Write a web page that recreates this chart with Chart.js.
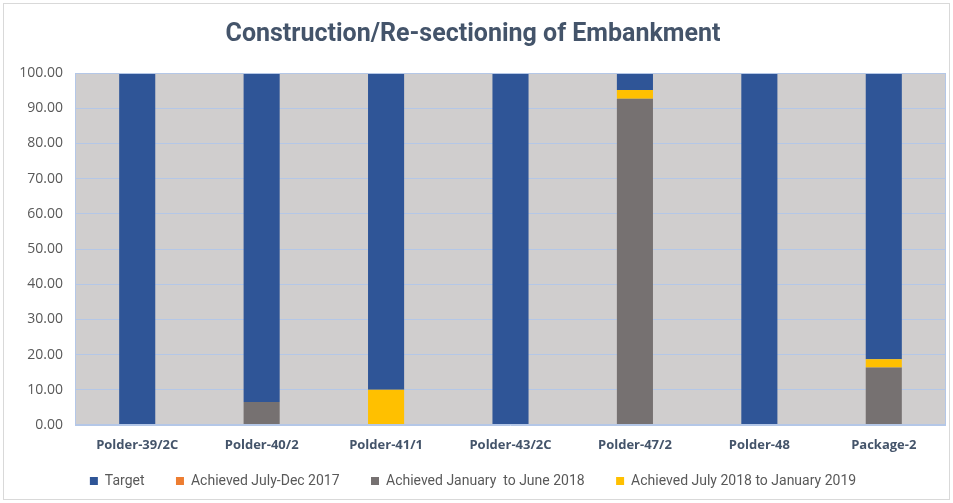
<!DOCTYPE html>
<html>
<head>
<meta charset="utf-8">
<script src="https://cdn.jsdelivr.net/npm/chart.js@4.4.1/dist/chart.umd.min.js"></script>
<style>
    body { margin: 0; background: #ffffff; }
    #wrap { width: 953px; height: 503px; }
</style>
</head>
<body>
<div id="wrap"><canvas id="myChart" width="953" height="503"></canvas></div>
<script>
// chart data
const categories = ['Polder-39/2C', 'Polder-40/2', 'Polder-41/1', 'Polder-43/2C', 'Polder-47/2', 'Polder-48', 'Package-2'];
const target = [100, 100, 100, 100, 100, 100, 100];
const achievedJulDec2017 = [0, 0, 0, 0, 0, 0, 0];
const achievedJanJun2018 = [0, 6.5, 0, 0, 92.7, 0, 16.3];
const achievedJul2018Jan2019 = [0, 0, 10, 0, 2.5, 0, 2.4];
const yTicks = [0, 10, 20, 30, 40, 50, 60, 70, 80, 90, 100];

const legendOrder = ['Target', 'Achieved July-Dec 2017', 'Achieved January  to June 2018', 'Achieved July 2018 to January 2019'];

// grey plot area + outer frame
const backdrop = {
    id: 'backdrop',
    beforeDraw(chart) {
        const { ctx, chartArea: a } = chart;
        ctx.save();
        ctx.strokeStyle = '#D9D9D9';
        ctx.lineWidth = 1;
        ctx.strokeRect(3.5, 3.5, chart.width - 7, chart.height - 7);
        ctx.fillStyle = '#D0CECE';
        ctx.fillRect(a.left, a.top, a.right - a.left, a.bottom - a.top);
        ctx.restore();
    },
    afterDatasetsDraw(chart) {
        const { ctx, chartArea: a } = chart;
        ctx.save();
        ctx.strokeStyle = '#B4C7E7';
        ctx.lineWidth = 1;
        ctx.strokeRect(a.left + 0.5, a.top + 0.5, a.right - a.left - 1, a.bottom - a.top - 1);
        ctx.restore();
    }
};

const ctx = document.getElementById('myChart').getContext('2d');
new Chart(ctx, {
    type: 'bar',
    data: {
        labels: categories,
        datasets: [
            {
                label: legendOrder[1],
                data: achievedJulDec2017,
                backgroundColor: '#ED7D31'
            },
            {
                label: legendOrder[2],
                data: achievedJanJun2018,
                backgroundColor: '#767171'
            },
            {
                label: legendOrder[3],
                data: achievedJul2018Jan2019,
                backgroundColor: '#FFC000'
            },
            {
                label: legendOrder[0],
                data: target,
                backgroundColor: '#2F5597'
            }
        ]
    },
    options: {
        responsive: false,
        animation: false,
        layout: { padding: { left: 0, right: 7, top: 0, bottom: 5 } },
        datasets: {
            bar: { barPercentage: 0.29, categoryPercentage: 1.0 }
        },
        plugins: {
            title: {
                display: true,
                text: 'Construction/Re-sectioning of Embankment',
                color: '#44546A',
                font: { family: "Roboto, 'Open Sans', sans-serif", size: 25, weight: 'bold' },
                padding: { top: 20, bottom: 23 }
            },
            legend: {
                position: 'bottom',
                labels: {
                    color: '#595959',
                    font: { family: "Roboto, sans-serif", size: 14 },
                    boxWidth: 8,
                    boxHeight: 8,
                    padding: 10,
                    // wider gaps between entries, like the original legend
                    generateLabels: (chart) => {
                        const items = Chart.defaults.plugins.legend.labels.generateLabels(chart);
                        items.sort((a, b) => legendOrder.indexOf(a.text) - legendOrder.indexOf(b.text));
                        return items.map((it, i) => {
                            if (i < items.length - 1) it.text = it.text + '\u2003\u2002';
                            return it;
                        });
                    }
                }
            },
            tooltip: { enabled: false }
        },
        scales: {
            x: {
                stacked: true,
                grid: { display: false },
                border: { display: false },
                ticks: {
                    color: '#44546A',
                    font: { family: "'Open Sans', sans-serif", size: 13, weight: 'bold' },
                    maxRotation: 0,
                    padding: 4
                },
                afterFit: (s) => { s.height = 39; }
            },
            y: {
                stacked: true,
                min: 0,
                max: 100,
                afterBuildTicks: (s) => { s.ticks = yTicks.map(v => ({ value: v })); },
                grid: { color: '#B4C7E7', drawTicks: false },
                border: { display: false },
                ticks: {
                    color: '#595959',
                    font: { family: "'Open Sans', sans-serif", size: 14 },
                    padding: 12,
                    callback: (v) => Number(v).toFixed(2)
                },
                afterFit: (s) => { s.width = 75; }
            }
        }
    },
    plugins: [backdrop]
});
</script>
</body>
</html>
